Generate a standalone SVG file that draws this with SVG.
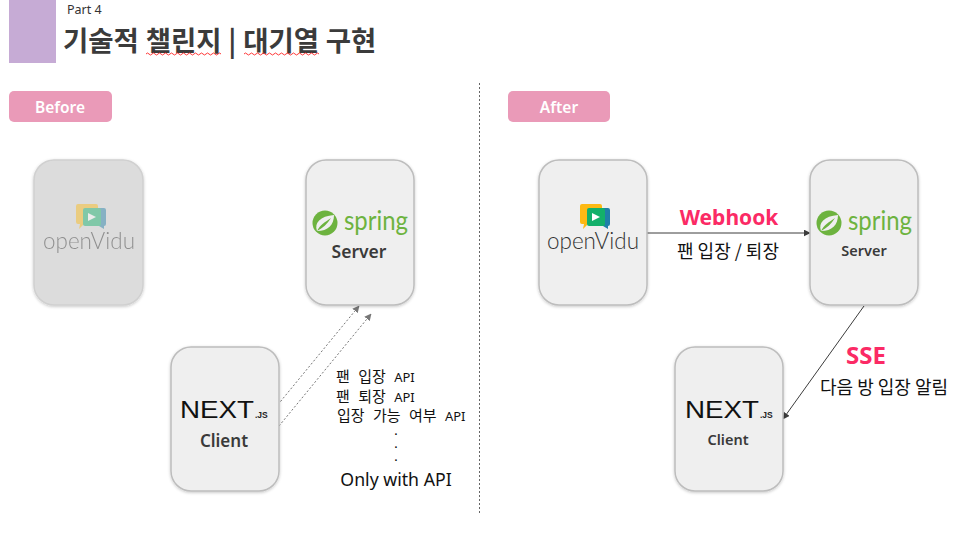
<svg xmlns="http://www.w3.org/2000/svg" xmlns:xlink="http://www.w3.org/1999/xlink" width="968" height="541" viewBox="0 0 968 541">
<style>
text{font-family:"Noto Sans CJK KR","Noto Sans","Liberation Sans",sans-serif}
.card{fill:#efefef;stroke:#bdbdbd;stroke-width:1.5;filter:url(#sh)}
.badge{fill:#ea9ab8}
.badgeT{fill:#fff;font-size:15.500px;font-weight:600;text-anchor:middle;font-family:"Noto Sans","Noto Sans CJK KR",sans-serif}
.lbl{fill:#3a3a3a;font-weight:600;text-anchor:middle;font-family:"Noto Sans","Noto Sans CJK KR",sans-serif}
.ko{fill:#111;font-size:15px;word-spacing:5px}
.api{font-size:13px;font-family:"Noto Sans",sans-serif}
.dot{fill:#111;font-size:10.5px;font-weight:700;text-anchor:middle;font-family:"Liberation Sans",sans-serif}
.hot{fill:#fb2a65;font-weight:700;text-anchor:middle;font-family:"Noto Sans",sans-serif}
.dash{fill:none;stroke:#777;stroke-width:1;stroke-dasharray:2 2;marker-end:url(#ag)}
.solid{fill:none;stroke:#3c3c3c;stroke-width:1;marker-end:url(#ad)}
.ov{font-family:"Lato","Noto Sans",sans-serif;font-size:24px;font-weight:300;text-anchor:middle}
.sp{fill:#6db33f;font-family:"Lato","Noto Sans",sans-serif;font-size:27px;font-weight:400}
.nx{fill:#111;font-family:"Liberation Sans",sans-serif;font-size:24.500px;font-weight:400}
.js{fill:#222;font-family:"Liberation Sans",sans-serif;font-size:8.500px;font-weight:700}
</style>
<defs>
<filter id="sh" x="-10%" y="-10%" width="120%" height="120%"><feDropShadow dx="0" dy="1" stdDeviation="1.500" flood-color="#000" flood-opacity=".22"/></filter>
<marker id="ag" viewBox="0 0 10 10" refX="9" refY="5" markerWidth="7" markerHeight="7" markerUnits="userSpaceOnUse" orient="auto"><path d="M0 0L10 5L0 10Z" fill="#777"/></marker>
<marker id="ad" viewBox="0 0 10 10" refX="9" refY="5" markerWidth="7" markerHeight="7" markerUnits="userSpaceOnUse" orient="auto"><path d="M0 0L10 5L0 10Z" fill="#3c3c3c"/></marker>
<g id="ovIcon">
<path d="M0 2a2 2 0 0 1 2-2h18a2 2 0 0 1 2 2v16a2 2 0 0 1-2 2h-12l-5 5 1-5h-2a2 2 0 0 1-2-2Z" fill="#fdb913"/>
<path d="M24 4h4a2 2 0 0 1 2 2v14a2 2 0 0 1-2 2v3l-5-3h-7V4Z" fill="#1f7fa8"/>
<rect x="7" y="4" width="18" height="18" rx="2" fill="#13b06a"/>
<path d="M12 9l8 4-8 4Z" fill="#fff"/>
</g>
<g id="spIcon">
<circle cx="0" cy="0" r="12.500" fill="#6db33f"/>
<path d="M-8 8C-11 0-5-7 9-8 9 2 3 8-8 8Z" fill="#efefef"/>
<path d="M-8 8C-5 2 0-1 6-5 2 1-2 5-8 8Z" fill="#6db33f"/>
</g>
</defs>
<rect width="968" height="541" fill="#fff"/>
<g id="header">
<rect x="9" y="0" width="47" height="63" fill="#c6abd5"/>
<text x="67" y="14" font-size="12.500" fill="#333" style="font-family:'Noto Sans',sans-serif">Part 4</text>
<text x="63" y="51" font-size="27.500" font-weight="700" fill="#3b3b3b" word-spacing=".5">기술적 챌린지 | 대기열 구현</text>
<path d="M146 54q1.500-2 3 0t3 0 3 0 3 0 3 0 3 0 3 0 3 0 3 0 3 0 3 0 3 0 3 0 3 0 3 0 3 0 3 0 3 0 3 0 3 0 3 0 3 0 3 0 3 0 3 0" fill="none" stroke="#f22" stroke-width=".9"/>
<path d="M244 54q1.500-2 3 0t3 0 3 0 3 0 3 0 3 0 3 0 3 0 3 0 3 0 3 0 3 0 3 0 3 0 3 0 3 0 3 0 3 0 3 0 3 0 3 0 3 0 3 0 3 0 3 0" fill="none" stroke="#f22" stroke-width=".9"/>
</g>
<line id="divider" x1="479.500" y1="83" x2="479.500" y2="514" stroke="#666" stroke-width="1" stroke-dasharray="2 2"/>
<g id="before-badge"><rect class="badge" x="9" y="91" width="103" height="31" rx="5"/><text class="badgeT" x="60" y="113">Before</text></g>
<g id="after-badge"><rect class="badge" x="508" y="91" width="102" height="31" rx="5"/><text class="badgeT" x="559" y="113">After</text></g>
<g id="connectors">
<path class="dash" d="M280.500 401.500L359 306"/>
<path class="dash" d="M279 426L371 314"/>
<path class="solid" d="M647 233H810"/>
<path class="solid" d="M864 306L783 419"/>
</g>
<g id="before-openvidu">
<rect x="34" y="160" width="109" height="145" rx="20" fill="#dcdcdc" stroke="#d0d0d0" stroke-width="1.500" filter="url(#sh)"/>
<g opacity=".45"><use xlink:href="#ovIcon" x="76" y="204"/><text class="ov" x="89" y="249" fill="#333" textLength="92" lengthAdjust="spacingAndGlyphs">openVidu</text></g>
</g>
<g id="before-server">
<rect class="card" x="306" y="160" width="108" height="145" rx="20"/>
<use xlink:href="#spIcon" x="325" y="223"/>
<text class="sp" x="344" y="230" textLength="64" lengthAdjust="spacingAndGlyphs">spring</text>
<text class="lbl" x="359" y="258" font-size="17.500">Server</text>
</g>
<g id="before-client">
<rect class="card" x="171" y="347" width="108" height="144" rx="20"/>
<text class="nx" x="180" y="418" textLength="74" lengthAdjust="spacingAndGlyphs">NEXT</text>
<text class="js" x="255" y="418">.JS</text>
<text class="lbl" x="224" y="447" font-size="17">Client</text>
</g>
<g id="before-notes">
<text class="ko" x="336" y="382">팬 입장 <tspan class="api">API</tspan></text>
<text class="ko" x="336" y="401.500">팬 퇴장 <tspan class="api">API</tspan></text>
<text class="ko" x="337" y="421">입장 가능 여부 <tspan class="api">API</tspan></text>
<text class="dot" x="396" y="435">.</text>
<text class="dot" x="396" y="448">.</text>
<text class="dot" x="396" y="461">.</text>
<text x="396" y="486" font-size="17.700" fill="#111" text-anchor="middle" style="font-family:'Noto Sans',sans-serif">Only with API</text>
</g>
<g id="after-openvidu">
<rect class="card" x="539" y="160" width="108" height="145" rx="20"/>
<use xlink:href="#ovIcon" x="580" y="204"/>
<text class="ov" x="593" y="249" fill="#333" textLength="92" lengthAdjust="spacingAndGlyphs">openVidu</text>
</g>
<g id="after-server">
<rect class="card" x="810" y="160" width="108" height="145" rx="20"/>
<use xlink:href="#spIcon" x="829" y="223"/>
<text class="sp" x="848" y="230" textLength="64" lengthAdjust="spacingAndGlyphs">spring</text>
<text class="lbl" x="864" y="256" font-size="14.500">Server</text>
</g>
<g id="after-client">
<rect class="card" x="675" y="347" width="108" height="144" rx="20"/>
<text class="nx" x="685" y="418" textLength="74" lengthAdjust="spacingAndGlyphs">NEXT</text>
<text class="js" x="760" y="418">.JS</text>
<text class="lbl" x="728" y="445" font-size="14.500">Client</text>
</g>
<g id="after-labels">
<text class="hot" x="729" y="225" font-size="21">Webhook</text>
<text x="728" y="258" fill="#111" text-anchor="middle" font-size="18">팬 입장 / 퇴장</text>
<text class="hot" x="866" y="364" font-size="24">SSE</text>
<text x="884" y="394" fill="#111" text-anchor="middle" font-size="18">다음 방 입장 알림</text>
</g>
</svg>
